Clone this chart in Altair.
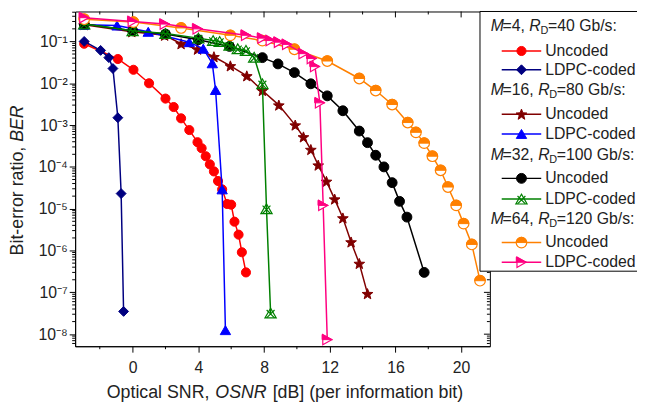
import math
import altair as alt
import pandas as pd

# ---------------- data ----------------
m4_unc_x = [-2.95, -0.9, 0.05, 1.0, 2.0, 2.5, 2.95, 3.45, 3.95, 4.2, 4.45, 4.7, 4.95, 5.2, 5.45, 5.75, 6.0, 6.2, 6.45, 6.65, 6.9]
m4_unc_y = [0.088, 0.038, 0.021, 0.010, 0.0043, 0.0027, 0.00145, 7.6e-4, 3.9e-4, 2.8e-4, 1.8e-4, 1.15e-4, 7.8e-5, 4.6e-5, 2.9e-5, 1.3e-5, 1.25e-5, 4.9e-6, 2.4e-6, 9.1e-7, 3.0e-7]

m4_ldpc_x = [-2.95, -1.95, -1.45, -1.2, -0.9, -0.7, -0.55]
m4_ldpc_y = [0.10, 0.061, 0.041, 0.0225, 1.5e-3, 2.3e-5, 3.5e-8]

m16_unc_x = [-2.95, -0.05, 1.95, 2.95, 3.95, 4.95, 5.95, 6.95, 7.9, 8.9, 9.9, 10.4, 10.85, 11.3, 11.8, 12.3, 12.8, 13.3, 13.8, 14.3]
m16_unc_y = [0.25, 0.17, 0.14, 0.088, 0.065, 0.043, 0.026, 0.015, 6.7e-3, 3.0e-3, 1.0e-3, 5.2e-4, 2.6e-4, 1.1e-4, 4.5e-5, 1.7e-5, 6e-6, 1.6e-6, 4.9e-7, 9.3e-8]

m16_ldpc_x = [-2.95, -0.95, 0.95, 3.45, 4.3, 4.85, 5.05, 5.45, 5.65]
m16_ldpc_y = [0.25, 0.24, 0.17, 0.096, 0.067, 0.03, 6.9e-3, 2.9e-5, 1.25e-8]

m32_unc_x = [-2.95, 0.0, 2.0, 4.0, 5.9, 7.9, 8.85, 9.85, 10.85, 11.85, 12.8, 13.8, 14.3, 14.8, 15.3, 15.8, 16.25, 16.7, 17.75]
m32_unc_y = [0.26, 0.18, 0.15, 0.11, 0.076, 0.041, 0.029, 0.018, 9.7e-3, 5.0e-3, 2.2e-3, 7.2e-4, 3.8e-4, 1.9e-4, 1.0e-4, 4.2e-5, 1.5e-5, 6.3e-6, 3.0e-7]

m32_ldpc_x = [-2.95, 0.0, 2.0, 4.0, 4.9, 5.3, 5.9, 6.4, 6.9, 7.4, 7.9, 8.15, 8.4]
m32_ldpc_y = [0.26, 0.18, 0.155, 0.12, 0.105, 0.10, 0.081, 0.067, 0.061, 0.042, 9.7e-3, 1.0e-5, 3.2e-8]

m64_unc_x = [-2.95, 0.05, 2.95, 5.95, 7.9, 9.85, 11.85, 13.8, 14.8, 15.8, 16.75, 17.25, 17.75, 18.25, 18.75, 19.2, 19.7, 20.15, 20.65, 21.15]
m64_unc_y = [0.34, 0.29, 0.21, 0.14, 0.105, 0.065, 0.034, 0.013, 6.7e-3, 3.1e-3, 1.15e-3, 6.7e-4, 3.7e-4, 1.8e-4, 8.3e-5, 3.3e-5, 1.2e-5, 4.4e-6, 1.4e-6, 1.9e-7]

m64_ldpc_x = [-2.95, 0.0, 1.95, 3.95, 6.9, 7.9, 8.4, 8.9, 9.4, 10.4, 10.9, 11.1, 11.4, 11.6, 11.85]
m64_ldpc_y = [0.37, 0.30, 0.26, 0.20, 0.14, 0.12, 0.105, 0.096, 0.085, 0.051, 0.039, 0.025, 3.4e-3, 1.2e-5, 7.4e-9]

x_major = [0, 4, 8, 12, 16, 20]
x_minor = [-2, 2, 6, 10, 14, 18]
y_exps = [-8, -7, -6, -5, -4, -3, -2, -1]

group_titles = [("4", "40"), ("16", "80"), ("32", "100"), ("64", "120")]
entry_labels = ["Uncoded", "LDPC-coded"]

# ---------------- layout / style ----------------
FONT = "Liberation Sans"
W, H = 420, 339
x_scale = alt.Scale(domain=[-3.5, 21.75], nice=False, zero=False)
y_scale = alt.Scale(type="log", domain=[5.15e-9, 0.52], nice=False)

y_major = [10.0 ** e for e in y_exps]
y_minor = [k * 10.0 ** e for e in range(-9, 0) for k in range(2, 10)
           if 5.15e-9 <= k * 10.0 ** e <= 0.52]

SUP = {"-1": "⁻¹", "-2": "⁻²", "-3": "⁻³", "-4": "⁻⁴", "-5": "⁻⁵", "-6": "⁻⁶", "-7": "⁻⁷", "-8": "⁻⁸"}
LOGE = "round(log(datum.value)/LN10)"
lab = "''"
for e in y_exps:
    lab = f"({LOGE} == {e} ? '10{SUP[str(e)]}' : {lab})"
y_label_expr = lab

ax_x = alt.Axis(values=x_major, tickSize=6, labelFont=FONT, labelFontSize=16, labelColor="#222",
                tickColor="black", domainColor="black", grid=False, title=None,
                labelPadding=8, labelOverlap=False, labelFlush=False)
ax_y = alt.Axis(values=y_major, labelExpr=y_label_expr, tickSize=6,
                labelFont=FONT, labelFontSize=16, labelColor="#222",
                tickColor="black", domainColor="black", grid=False, title=None,
                labelPadding=2, labelOverlap=False, labelFlush=False)


def X(field):
    return alt.X(field, scale=x_scale, axis=ax_x)


def Y(field):
    return alt.Y(field, scale=y_scale, axis=ax_y)


layers = []

# minor ticks bottom/left (outward), mirrored ticks top/right (inward)
layers.append(alt.Chart(pd.DataFrame({"t": x_minor})).mark_rule(color="black", strokeWidth=1).encode(
    x=X("t:Q"), y=alt.value(H), y2=alt.value(H + 3)))
layers.append(alt.Chart(pd.DataFrame({"t": y_minor})).mark_rule(color="black", strokeWidth=1).encode(
    y=Y("t:Q"), x=alt.value(0), x2=alt.value(-3)))
for vals, size in [(x_major, 6), (x_minor, 3)]:
    layers.append(alt.Chart(pd.DataFrame({"t": vals})).mark_rule(color="black", strokeWidth=1).encode(
        x=X("t:Q"), y=alt.value(0), y2=alt.value(size)))
for vals, size in [(y_major, 6), (y_minor, 3)]:
    layers.append(alt.Chart(pd.DataFrame({"t": vals})).mark_rule(color="black", strokeWidth=1).encode(
        y=Y("t:Q"), x=alt.value(W), x2=alt.value(W - size)))


def star_path():
    pts = []
    for i in range(10):
        r = 1.0 if i % 2 == 0 else 0.42
        a = -math.pi / 2 + i * math.pi / 5
        pts.append(f"{r * math.cos(a):.3f},{r * math.sin(a) + 0.1:.3f}")
    return "M" + "L".join(pts) + "Z"


STAR = star_path()
HALF_CIRCLE = "M-1,0A1,1,0,0,1,1,0Z"
HALF_TRI_R = "M-1,-1L1,0L-1,0Z"
X_PATH = "M-0.7,-0.55L0.7,0.85M-0.7,0.85L0.7,-0.55"

series = [
    (m4_unc_x, m4_unc_y, "#FF0000", [dict(shape="circle", size=85, filled=True)]),
    (m4_ldpc_x, m4_ldpc_y, "#000080", [dict(shape="diamond", size=100, filled=True)]),
    (m16_unc_x, m16_unc_y, "#800000", [dict(shape=STAR, size=130, filled=True)]),
    (m16_ldpc_x, m16_ldpc_y, "#0000FF", [dict(shape="triangle-up", size=110, filled=True)]),
    (m32_unc_x, m32_unc_y, "#000000", [dict(shape="circle", size=100, filled=True)]),
    (m32_ldpc_x, m32_ldpc_y, "#008000", [dict(shape="triangle-up", size=130, filled=False),
                                         dict(shape=X_PATH, size=130, filled=False)]),
    (m64_unc_x, m64_unc_y, "#FF8000", [dict(shape="circle", size=115, filled=True, white=True),
                                       dict(shape=HALF_CIRCLE, size=115, filled=True)]),
    (m64_ldpc_x, m64_ldpc_y, "#FF0080", [dict(shape="triangle-right", size=110, filled=True, white=True),
                                         dict(shape=HALF_TRI_R, size=110, filled=True)]),
]


def marker_mark(spec, color):
    kw = dict(shape=spec["shape"], size=spec["size"], opacity=1)
    if spec.get("white"):
        kw.update(filled=True, fill="white", stroke=color, strokeWidth=1.2)
    elif spec["filled"]:
        kw.update(filled=True, fill=color, stroke=color, strokeWidth=1)
    else:
        kw.update(filled=False, color=color, strokeWidth=1.2)
    return kw


for xs_, ys_, color, markers in series:
    d = pd.DataFrame({"x": xs_, "y": ys_})
    base = alt.Chart(d).encode(x=X("x:Q"), y=Y("y:Q"))
    layers.append(base.mark_line(color=color, strokeWidth=1.5))
    for spec in markers:
        layers.append(base.mark_point(**marker_mark(spec, color)))

# ---------------- legend (drawn in pixel space) ----------------
one = pd.DataFrame({"a": [0]})
LX0 = 410  # legend box left (relative to plot origin)
layers.append(alt.Chart(one).mark_rect(fill="white", stroke="black", strokeWidth=1).encode(
    x=alt.value(LX0), x2=alt.value(LX0 + 200), y=alt.value(0), y2=alt.value(263)))

head_y = [15, 80, 145, 210]
row_y = [[40, 59], [104, 124], [169, 190], [234, 254]]
SZ = 16
widths = {"=": 0.584, ",": 0.278, " ": 0.278, "G": 0.778, "b": 0.556, "/": 0.278, "s": 0.5, ":": 0.278}
for gi, (mval, rate) in enumerate(group_titles):
    hy = head_y[gi]
    x = LX0 + 11
    pieces = [("M", "italic", SZ, 0, 0.74), ("=" + mval + ", ", "normal", SZ, 0, None),
              ("R", "italic", SZ, 0, 0.70), ("D", "normal", 11, 5, 0.70),
              ("=" + rate + " Gb/s:", "normal", SZ, 0, None)]
    for txt, style, fs, dy, wfix in pieces:
        layers.append(alt.Chart(one).mark_text(text=txt, font=FONT, fontSize=fs, fontStyle=style,
                                               align="left", baseline="middle", color="#222").encode(
            x=alt.value(x), y=alt.value(hy + dy)))
        if wfix is not None:
            w = wfix * fs
        else:
            w = sum(widths.get(c, 0.556) for c in txt) * fs
        x += w
    for ei in range(2):
        si = gi * 2 + ei
        xs_, ys_, color, markers = series[si]
        ry = row_y[gi][ei]
        layers.append(alt.Chart(one).mark_rule(color=color, strokeWidth=1.5).encode(
            x=alt.value(LX0 + 22), x2=alt.value(LX0 + 62), y=alt.value(ry)))
        for spec in markers:
            layers.append(alt.Chart(one).mark_point(**marker_mark(spec, color)).encode(
                x=alt.value(LX0 + 42), y=alt.value(ry)))
        layers.append(alt.Chart(one).mark_text(text=entry_labels[ei], font=FONT, fontSize=SZ,
                                               align="left", baseline="middle", color="#222").encode(
            x=alt.value(LX0 + 66), y=alt.value(ry)))

# ---------------- axis titles (mixed upright / italic) ----------------
TS = 18
xt = [("Optical SNR,", "normal", 32), ("OSNR", "italic", 142), ("[dB] (per information bit)", "normal", 200)]
for txt, style, px in xt:
    layers.append(alt.Chart(one).mark_text(text=txt, font=FONT, fontSize=TS, fontStyle=style,
                                           align="left", baseline="middle", color="#222").encode(
        x=alt.value(px), y=alt.value(H + 47)))
yt = [("Bit-error ratio,", "normal", 247), ("BER", "italic", 132)]
for txt, style, py in yt:
    layers.append(alt.Chart(one).mark_text(text=txt, font=FONT, fontSize=18, fontStyle=style, angle=270,
                                           align="left", baseline="middle", color="#222").encode(
        x=alt.value(-58), y=alt.value(py)))

chart = alt.layer(*layers).properties(
    width=W, height=H,
    autosize=alt.AutoSizeParams(type="none"),
    padding={"left": 68, "top": 1, "right": 149, "bottom": 59},
    background="white",
).configure_view(stroke="black", strokeWidth=1)

chart.save("out.html", embed_options={"renderer": "svg", "actions": False})
